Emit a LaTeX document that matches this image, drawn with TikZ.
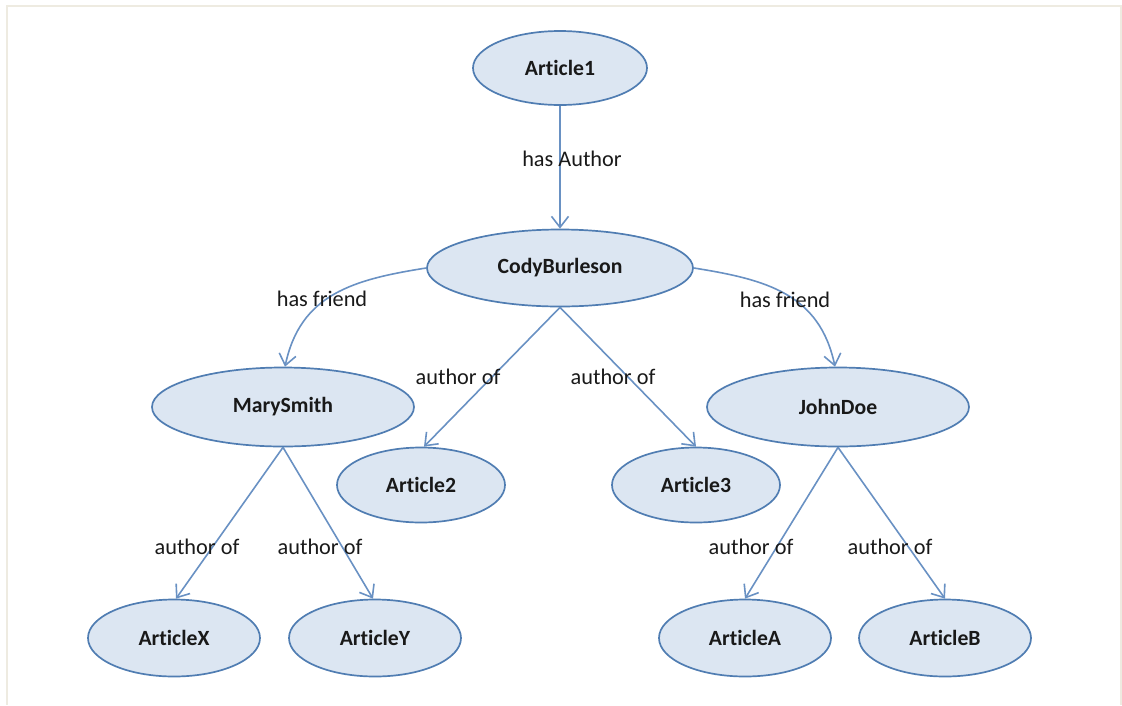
\documentclass[tikz,border=0pt]{standalone}
\usepackage{fontspec}
\setmainfont{Carlito}[Ligatures=NoCommon]
\usetikzlibrary{arrows.meta,shapes.geometric}
\definecolor{edgeblue}{RGB}{105,145,195}
\definecolor{rimblue}{RGB}{80,125,178}
\definecolor{fillblue}{RGB}{220,230,242}
\definecolor{framebeige}{RGB}{238,235,225}
\definecolor{txt}{RGB}{25,25,25}
\tikzset{
  ent/.style={ellipse, draw=rimblue, line width=1.7pt, fill=fillblue, inner sep=0pt,
    font=\fontsize{21.7}{26}\selectfont\bfseries, text=txt},
  rel/.style={draw=edgeblue, line width=1.6pt, -{Straight Barb[length=11pt,width=17pt,line width=1.6pt]}},
  lbl/.style={font=\fontsize{22.3}{26}\selectfont, text=txt, inner sep=0pt}
}
\begin{document}
\begin{tikzpicture}[x=1pt,y=-1pt]
\useasboundingbox (0,0) rectangle (1122,705);
\draw[framebeige, line width=2pt] (6.5,705) -- (6.5,5.5) -- (1121,5.5) -- (1121,705);

\node[ent, minimum width=174pt, minimum height=74pt] (a1) at (560,68) {Article1};
\node[ent, minimum width=266pt, minimum height=77pt] (cody) at (560,268) {CodyBurleson};
\node[ent, minimum width=262pt, minimum height=79pt] (mary) at (283,407) {MarySmith};
\node[ent, minimum width=262pt, minimum height=79pt] (john) at (838,407) {JohnDoe};
\node[ent, minimum width=168pt, minimum height=75pt] (a2) at (421,485) {Article2};
\node[ent, minimum width=168pt, minimum height=75pt] (a3) at (696,485) {Article3};
\node[ent, minimum width=172pt, minimum height=77pt] (ax) at (174,638) {ArticleX};
\node[ent, minimum width=172pt, minimum height=77pt] (ay) at (375,638) {ArticleY};
\node[ent, minimum width=172pt, minimum height=77pt] (aa) at (745,638) {ArticleA};
\node[ent, minimum width=172pt, minimum height=77pt] (ab) at (945,638) {ArticleB};

\draw[rel] (a1.south) -- (cody.north);
\draw[rel] (cody.west) to[out=189, in=78, looseness=1.1] ([xshift=2pt]mary.north);
\draw[rel] (cody.east) to[out=-9, in=102, looseness=1.1] ([xshift=-3pt]john.north);
\draw[rel] (cody.south) -- ([xshift=3pt]a2.north);
\draw[rel] (cody.south) -- (a3.north);
\draw[rel] (mary.south) -- ([xshift=2pt]ax.north);
\draw[rel] (mary.south) -- ([xshift=-2pt]ay.north);
\draw[rel] (john.south) -- (aa.north);
\draw[rel] (john.south) -- (ab.north);

\node[lbl] (l1) at (572,159) {has Author};
\node[lbl] (l2) at (322,299) {has friend};
\node[lbl] (l3) at (785,300) {has friend};
\node[lbl] (l4) at (458,377) {author of};
\node[lbl] (l5) at (613,377) {author of};
\node[lbl] (l6) at (197,547) {author of};
\node[lbl] (l7) at (320,547) {author of};
\node[lbl] (l8) at (751,547) {author of};
\node[lbl] (l9) at (890,547) {author of};
\end{tikzpicture}
\end{document}
